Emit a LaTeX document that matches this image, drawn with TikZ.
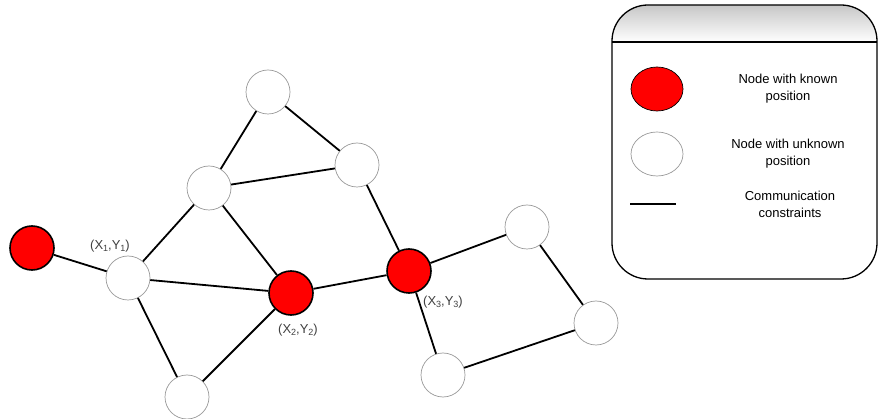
\documentclass[tikz,border=0pt]{standalone}
\usepackage{fontspec}
\setmainfont{Liberation Sans}
\usetikzlibrary{shapes.geometric}
\newcommand{\lowidx}[1]{\raisebox{-0.35ex}{\fontsize{9}{9}\selectfont #1}}

\begin{document}
\begin{tikzpicture}[x=1pt,y=-1pt,
  known/.style={circle,draw=black,line width=1.6pt,fill=red,minimum size=44pt,inner sep=0pt},
  unknown/.style={circle,draw=gray!80,line width=0.7pt,fill=white,minimum size=44pt,inner sep=0pt},
  link/.style={line width=1.8pt},
  coord/.style={font=\fontsize{13}{15}\selectfont,text=black!75},
  legtext/.style={align=center,font=\fontsize{13}{17}\selectfont}]
\useasboundingbox (0,0) rectangle (878,419);
% legend
\shade[top color=black!22,bottom color=white] (612,42) [rounded corners=36pt] -- (612,5) -- (877,5) [sharp corners] -- (877,42) -- cycle;
\draw[line width=1.3pt,rounded corners=36pt] (612,5) rectangle (877,279);
\draw[line width=1.3pt] (612,42) -- (877,42);
\node[ellipse,draw=black,line width=0.7pt,fill=red,minimum width=52pt,minimum height=44pt] (legknown) at (657,89) {};
\node[ellipse,draw=gray!80,line width=0.7pt,minimum width=52pt,minimum height=44pt] (legunknown) at (657,154) {};
\coordinate (legA) at (630,204);
\coordinate (legB) at (676,204);
\draw[link] (legA) -- (legB);
\node[legtext] (txtknown) at (788,89) {Node with known\\position};
\node[legtext] (txtunknown) at (788,154) {Node with unknown\\position};
\node[legtext] (txtlink) at (790,204) {Communication\\constraints};
% network
\node[known] (r0) at (32,248) {};
\node[unknown] (p1) at (128,278) {};
\node[unknown] (top) at (268,92) {};
\node[unknown] (mid) at (209,188) {};
\node[unknown] (up) at (357,165) {};
\node[known] (r2) at (291,293) {};
\node[known] (r3) at (409,271) {};
\node[unknown] (low) at (187,397) {};
\node[unknown] (ne) at (527,227) {};
\node[unknown] (east) at (596,323) {};
\node[unknown] (south) at (443,375) {};
\node[coord] (l1) at (110,246) {(X\lowidx{1},Y\lowidx{1})};
\node[coord] (l2) at (298,330) {(X\lowidx{2},Y\lowidx{2})};
\node[coord] (l3) at (443,302) {(X\lowidx{3},Y\lowidx{3})};
\draw[link] (r0)--(p1);
\draw[link] (p1)--(mid);
\draw[link] (p1)--(r2);
\draw[link] (p1)--(low);
\draw[link] (low)--(r2);
\draw[link] (mid)--(top);
\draw[link] (mid)--(up);
\draw[link] (mid)--(r2);
\draw[link] (top)--(up);
\draw[link] (up)--(r3);
\draw[link] (r2)--(r3);
\draw[link] (r3)--(ne);
\draw[link] (r3)--(south);
\draw[link] (ne)--(east);
\draw[link] (east)--(south);
\end{tikzpicture}
\end{document}
